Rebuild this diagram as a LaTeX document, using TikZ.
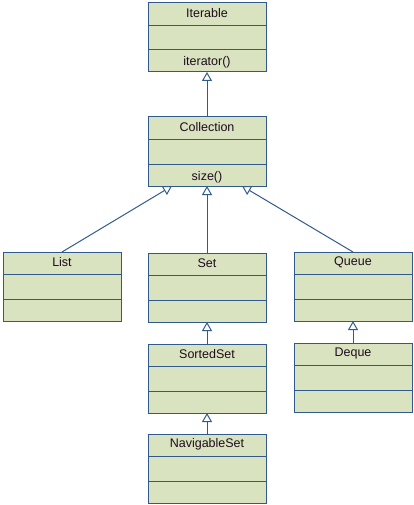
\documentclass[tikz,border=0pt]{standalone}
\usepackage{fontspec}
\setmainfont{Liberation Sans}
\usetikzlibrary{arrows.meta}
\definecolor{classfill}{RGB}{217,227,191}
\definecolor{classline}{RGB}{49,90,140}
\definecolor{classtext}{RGB}{30,12,30}
\tikzset{
  classbox/.style={draw=classline, fill=classfill, line width=1pt,
    minimum width=118pt, minimum height=69pt, inner sep=0pt, outer sep=0pt,
    anchor=north west},
  classlabel/.style={font=\fontsize{12.5}{14}\selectfont, text=classtext, inner sep=0pt},
  compart/.style={draw=classline, line width=1pt},
  inherit/.style={draw=classline, line width=1pt,
    -{Triangle[open, width=10pt, length=9pt, line width=1pt]}},
}
% \umlclass{name}{left}{top}{title}: a three-compartment class box
\newcommand\umlclass[4]{%
  \node[classbox] (#1) at (#2,-#3) {};
  \draw[compart] ([yshift=-22.5pt]#1.north west) -- ([yshift=-22.5pt]#1.north east);
  \draw[compart] ([yshift=-47pt]#1.north west) -- ([yshift=-47pt]#1.north east);
  \node[classlabel] (#1-title) at ([yshift=-10.5pt]#1.north) {#4};
}
\begin{document}
\begin{tikzpicture}[x=1pt, y=1pt]
  \useasboundingbox (0,0) rectangle (413,-505);

  \umlclass{iterable}{148}{3}{Iterable}
  \node[classlabel, anchor=base] (iterable-op) at ([yshift=-63pt]iterable.north) {iterator()};

  \umlclass{collection}{148}{117}{Collection}
  \node[classlabel, anchor=base] (collection-op) at ([yshift=-63pt]collection.north) {size()};

  \umlclass{list}{3}{252}{List}
  \umlclass{set}{148}{253}{Set}
  \umlclass{queue}{294}{252}{Queue}
  \umlclass{sortedset}{148}{344}{SortedSet}
  \umlclass{deque}{294}{343}{Deque}
  \umlclass{navigableset}{148}{434}{NavigableSet}

  % generalisation arrows
  \draw[inherit] (collection.north) -- (iterable.south);
  \draw[inherit] (list.north) -- ([xshift=-35pt]collection.south);
  \draw[inherit] (set.north) -- (collection.south);
  \draw[inherit] (queue.north) -- ([xshift=35pt]collection.south);
  \draw[inherit] (sortedset.north) -- (set.south);
  \draw[inherit] (navigableset.north) -- (sortedset.south);
  \draw[inherit] (deque.north) -- (queue.south);
\end{tikzpicture}
\end{document}
